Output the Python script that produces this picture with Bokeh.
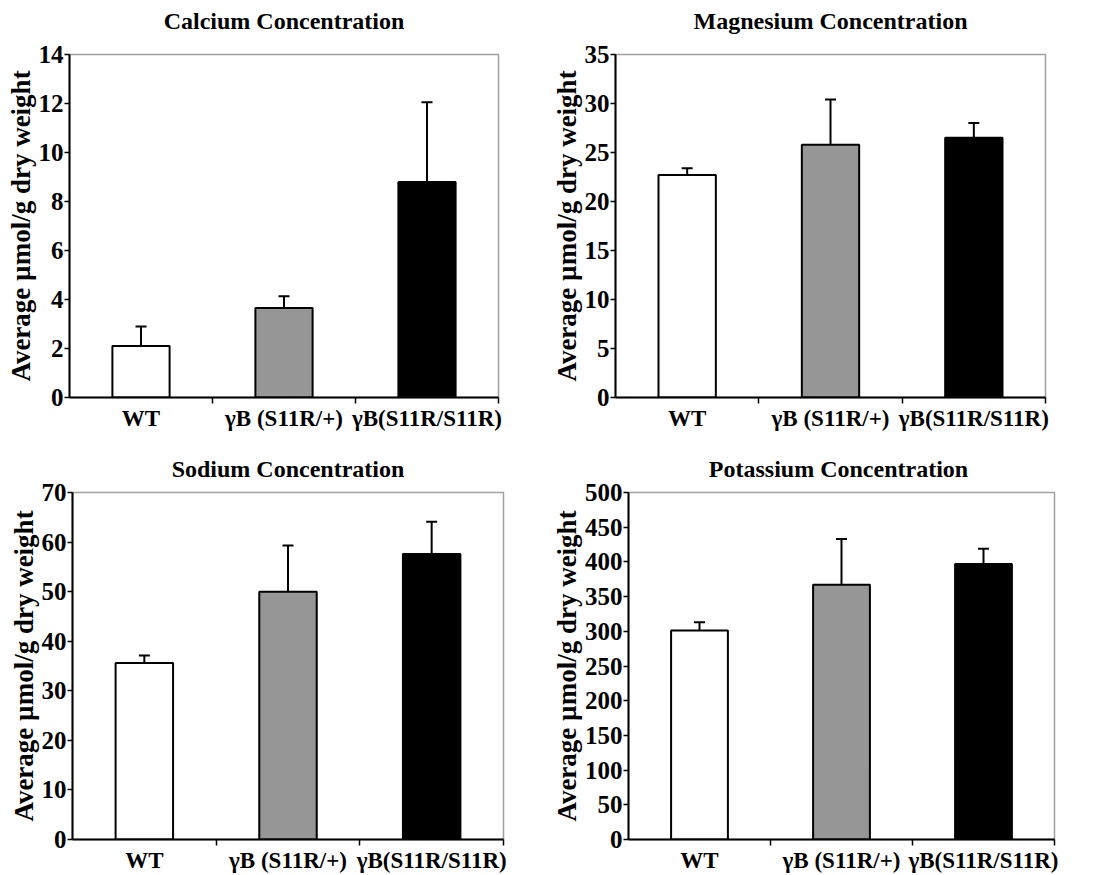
from bokeh.plotting import figure
from bokeh.models import Range1d, FixedTicker, ColumnDataSource, Whisker, TeeHead, Title
from bokeh.layouts import column, row
from bokeh.embed import file_html
from bokeh.resources import INLINE

categories = ["WT", "γB (S11R/+)", "γB(S11R/S11R)"]
bar_colors = ["#ffffff", "#969696", "#000000"]

calcium = [2.1, 3.65, 8.8]
calcium_err = [0.8, 0.48, 3.25]
magnesium = [22.7, 25.8, 26.5]
magnesium_err = [0.7, 4.6, 1.5]
sodium = [35.6, 50.0, 57.6]
sodium_err = [1.5, 9.3, 6.5]
potassium = [301, 367, 397]
potassium_err = [12, 66, 22]

FONT = "Liberation Serif"


def panel(title, vals, errs, ymax, ystep, w, h, bl, br, bb, tstand, spacer):
    n = len(categories)
    p = figure(width=w, height=h, x_range=Range1d(0, n), y_range=Range1d(0, ymax),
               output_backend="svg", toolbar_location=None, title=None,
               min_border_left=bl, min_border_right=br, min_border_top=0, min_border_bottom=bb)
    p.xgrid.visible = False
    p.ygrid.visible = False
    p.outline_line_color = "#a0a0a0"
    p.outline_line_width = 1.5
    centers = [i + 0.5 for i in range(n)]
    src = ColumnDataSource(dict(x=centers, top=vals, upper=[v + e for v, e in zip(vals, errs)],
                                color=bar_colors))
    p.vbar(x="x", top="top", width=0.4, fill_color="color", line_color="black",
           line_width=2, source=src)
    wk = Whisker(source=src, base="x", lower="top", upper="upper", line_width=2,
                 line_color="black",
                 upper_head=TeeHead(size=11, line_width=2, line_color="black"),
                 lower_head=None, level="overlay")
    p.add_layout(wk)

    # x axis
    xa = p.xaxis[0]
    xa.ticker = FixedTicker(ticks=centers, minor_ticks=[i + 1 for i in range(n)])
    xa.major_label_overrides = {c: lab for c, lab in zip(centers, categories)}
    xa.major_tick_line_color = None
    xa.major_tick_out = 0
    xa.major_tick_in = 0
    xa.minor_tick_line_color = "black"
    xa.minor_tick_line_width = 1.5
    xa.minor_tick_out = 6
    xa.minor_tick_in = 0
    xa.axis_line_width = 2
    xa.axis_line_color = "black"
    xa.major_label_text_font = FONT
    xa.major_label_text_font_style = "bold"
    xa.major_label_text_font_size = "23px"
    xa.major_label_text_color = "black"
    xa.major_label_standoff = 2

    # y axis
    ya = p.yaxis[0]
    ya.ticker = FixedTicker(ticks=list(range(0, ymax + 1, ystep)))
    ya.major_tick_out = 5
    ya.major_tick_in = 0
    ya.major_tick_line_width = 1.5
    ya.major_tick_line_color = "black"
    ya.minor_tick_line_color = None
    ya.axis_line_width = 2
    ya.axis_line_color = "black"
    ya.major_label_text_font = FONT
    ya.major_label_text_font_style = "bold"
    ya.major_label_text_font_size = "25px"
    ya.major_label_text_color = "black"
    ya.major_label_standoff = 1
    ya.axis_label = "Average µmol/g dry weight"
    ya.axis_label_text_font = FONT
    ya.axis_label_text_font_style = "bold"
    ya.axis_label_text_font_size = "27px"
    ya.axis_label_text_color = "black"
    ya.axis_label_standoff = 0

    if spacer is not None:
        p.add_layout(Title(text=" ", text_font_size="1px", standoff=spacer), "above")
    p.add_layout(Title(text=title, align="center", text_font=FONT, text_font_style="bold",
                       text_font_size="24px", text_color="black", standoff=tstand), "above")
    return p


p1 = panel("Calcium Concentration", calcium, calcium_err, 14, 2, 548, 442, 69, 50, 45, 11, 12)
p2 = panel("Magnesium Concentration", magnesium, magnesium_err, 35, 5, 549, 442, 67, 52, 45, 11, 12)
p3 = panel("Sodium Concentration", sodium, sodium_err, 70, 10, 548, 433, 72, 45, 36, 22, None)
p4 = panel("Potassium  Concentration", potassium, potassium_err, 500, 50, 549, 433, 67, 43, 34, 22, None)

layout = column(row(p1, p2), row(p3, p4))
open("out.html", "w").write(file_html(layout, INLINE))
